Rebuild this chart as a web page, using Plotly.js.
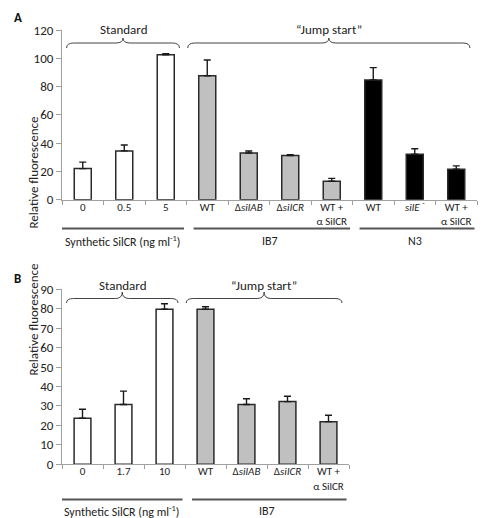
<!DOCTYPE html>
<html>
<head>
<meta charset="utf-8">
<script src="https://cdn.plot.ly/plotly-3.0.1.min.js"></script>
<style>html,body{margin:0;padding:0;background:#fff;}#chart{width:483px;height:518px;}</style>
</head>
<body>
<div id="chart"></div>
<script>
// ---------- DATA ----------
const A_labels = ["0", "0.5", "5", "WT", "Δ<i>silAB</i>", "Δ<i>silCR</i>", "WT +<br>α SilCR", "WT", "<i>silE</i> <sup>-</sup>", "WT +<br>α SilCR"];
const A_values = [22, 34.5, 102.5, 87.6, 33, 31.2, 13, 84.7, 32.2, 21.5];
const A_errors = [4.6, 4.2, 0.8, 11.2, 1.4, 0.7, 2.1, 8.7, 3.8, 2.4];
const A_groupOf = ["std", "std", "std", "IB7", "IB7", "IB7", "IB7", "N3", "N3", "N3"];
const A_groupNames = ["Synthetic SilCR (ng ml<sup>-1</sup>)", "IB7", "N3"];
const A_groupStart = [0, 3, 7];
const A_groupEnd = [2, 6, 9];

const B_labels = ["0", "1.7", "10", "WT", "Δ<i>silAB</i>", "Δ<i>silCR</i>", "WT +<br>α SilCR"];
const B_values = [23.7, 30.7, 79.7, 79.7, 30.7, 32.2, 21.9];
const B_errors = [4.6, 6.9, 2.9, 1.3, 3.0, 2.8, 3.3];
const B_groupOf = ["std", "std", "std", "IB7", "IB7", "IB7", "IB7"];
const B_groupNames = ["Synthetic SilCR (ng ml<sup>-1</sup>)", "IB7"];
const B_groupStart = [0, 3];
const B_groupEnd = [2, 6];

const braceNames = ["Standard", "“Jump start”"];
const A_braceStart = [0, 3];
const A_braceEnd = [2, 9];
const B_braceStart = [0, 3];
const B_braceEnd = [2, 6];

const yTitle = "Relative fluorescence";

// ---------- STYLE ----------
const W = 483, H = 518;
const FONT = "Carlito, Lato, 'Liberation Sans', sans-serif";
const fillOf = {std: "#ffffff", IB7: "#c0c0c0", N3: "#000000"};
const xp = px => px / W;
const yp = py => 1 - py / H;

function barTrace(labels, vals, errs, groups, xa, ya) {
  return {
    type: "bar",
    x: labels.map((_, i) => i),
    y: vals,
    width: 0.41,
    xaxis: xa, yaxis: ya,
    marker: {color: groups.map(g => fillOf[g]), line: {color: "#2a2a2a", width: 1.5}},
    error_y: {type: "data", symmetric: false, array: errs, arrayminus: errs.map(() => 0),
              color: "#1a1a1a", thickness: 1.4, width: 3.5},
    hoverinfo: "none", showlegend: false
  };
}

function xAxis(labels, domain, anchor) {
  return {
    domain: domain, anchor: anchor,
    range: [-0.5, labels.length - 0.5],
    tickmode: "array", tickvals: labels.map((_, i) => i), ticktext: labels,
    ticks: "", showgrid: false, zeroline: false,
    showline: true, linecolor: "#a0a0a0", linewidth: 1,
    tickfont: {family: FONT, size: 11, color: "#222"},
    ticklabelstandoff: -3,
    minor: {tick0: -0.5, dtick: 1, ticks: "outside", ticklen: 4, tickcolor: "#a0a0a0", tickwidth: 1, showgrid: false},
    fixedrange: true
  };
}
function yAxis(range, dtick, domain, anchor) {
  return {
    domain: domain, anchor: anchor, range: range, dtick: dtick,
    showgrid: false, zeroline: false, showline: true, linecolor: "#a0a0a0", linewidth: 1,
    ticks: "outside", ticklen: 5, tickcolor: "#a0a0a0",
    tickfont: {family: FONT, size: 13, color: "#222"}, fixedrange: true
  };
}

// brace path: x in data units (axis xref), y in paper
function bracePath(x0, x1, yEndPx, yMidPx, yTipPx, r) {
  const xc = (x0 + x1) / 2;
  const ye = yp(yEndPx), ym = yp(yMidPx), yt = yp(yTipPx);
  return `M ${x0},${ye} Q ${x0},${ym} ${x0 + r},${ym} L ${xc - r},${ym} Q ${xc},${ym} ${xc},${yt} ` +
         `Q ${xc},${ym} ${xc + r},${ym} L ${x1 - r},${ym} Q ${x1},${ym} ${x1},${ye}`;
}

const shapes = [], annotations = [];

function decorate(xref, groupNames, gStart, gEnd, lineYpx, labelYpx, bStart, bEnd, braceY, textYpx) {
  groupNames.forEach((name, i) => {
    const x0 = gStart[i] - 0.5 + (gStart[i] === 0 ? 0 : 0.17);
    const x1 = gEnd[i] + 0.5 - 0.06;
    shapes.push({type: "line", xref: xref, yref: "paper", x0: x0, x1: x1, y0: yp(lineYpx), y1: yp(lineYpx),
                 line: {color: "#555", width: 2}});
    annotations.push({xref: xref, yref: "paper", x: (gStart[i] + gEnd[i]) / 2 + (i === 0 ? -0.05 : 0), y: yp(labelYpx),
                      text: name, showarrow: false, xanchor: "center", yanchor: "middle",
                      font: {family: FONT, size: 12, color: "#222"}});
  });
  braceNames.forEach((name, i) => {
    const x0 = bStart[i] - 0.5 + (bStart[i] === 0 ? 0.11 : 0.03);
    const x1 = bEnd[i] + 0.5 - 0.17;
    shapes.push({type: "path", xref: xref, yref: "paper",
                 path: bracePath(x0, x1, braceY[0], braceY[1], braceY[2], 0.17),
                 line: {color: "#444", width: 1}});
    annotations.push({xref: xref, yref: "paper", x: (x0 + x1) / 2, y: yp(textYpx), text: name,
                      showarrow: false, xanchor: "center", yanchor: "middle",
                      font: {family: FONT, size: 13, color: "#222"}});
  });
}

decorate("x", A_groupNames, A_groupStart, A_groupEnd, 228.5, 240.5, A_braceStart, A_braceEnd, [48, 43, 38], 29);
decorate("x2", B_groupNames, B_groupStart, B_groupEnd, 499.5, 510.5, B_braceStart, B_braceEnd, [303, 298.5, 292], 285);

annotations.push({xref: "paper", yref: "paper", x: xp(23), y: yp(115), text: yTitle, textangle: -90,
                  showarrow: false, font: {family: FONT, size: 13, color: "#222"}});
annotations.push({xref: "paper", yref: "paper", x: xp(23), y: yp(378), text: yTitle, textangle: -90,
                  showarrow: false, font: {family: FONT, size: 13, color: "#222"}});
annotations.push({xref: "paper", yref: "paper", x: xp(12), y: yp(8), text: "<b>A</b>",
                  showarrow: false, font: {family: FONT, size: 13, color: "#111"}});
annotations.push({xref: "paper", yref: "paper", x: xp(12), y: yp(278), text: "<b>B</b>",
                  showarrow: false, font: {family: FONT, size: 13, color: "#111"}});

const data = [
  barTrace(A_labels, A_values, A_errors, A_groupOf, "x", "y"),
  barTrace(B_labels, B_values, B_errors, B_groupOf, "x2", "y2")
];

const layout = {
  width: W, height: H,
  margin: {l: 0, r: 0, t: 0, b: 0},
  paper_bgcolor: "#fff", plot_bgcolor: "rgba(0,0,0,0)",
  font: {family: FONT, color: "#222"},
  xaxis: xAxis(A_labels, [xp(62), xp(477)], "y"),
  yaxis: yAxis([0, 120], 20, [yp(199.7), yp(30)], "x"),
  xaxis2: xAxis(B_labels, [xp(62), xp(349)], "y2"),
  yaxis2: yAxis([0, 90], 10, [yp(464.2), yp(289.3)], "x2"),
  shapes: shapes, annotations: annotations,
  showlegend: false, bargap: 0.59
};

Plotly.newPlot("chart", data, layout, {displayModeBar: false, staticPlot: true});
</script>
</body>
</html>
